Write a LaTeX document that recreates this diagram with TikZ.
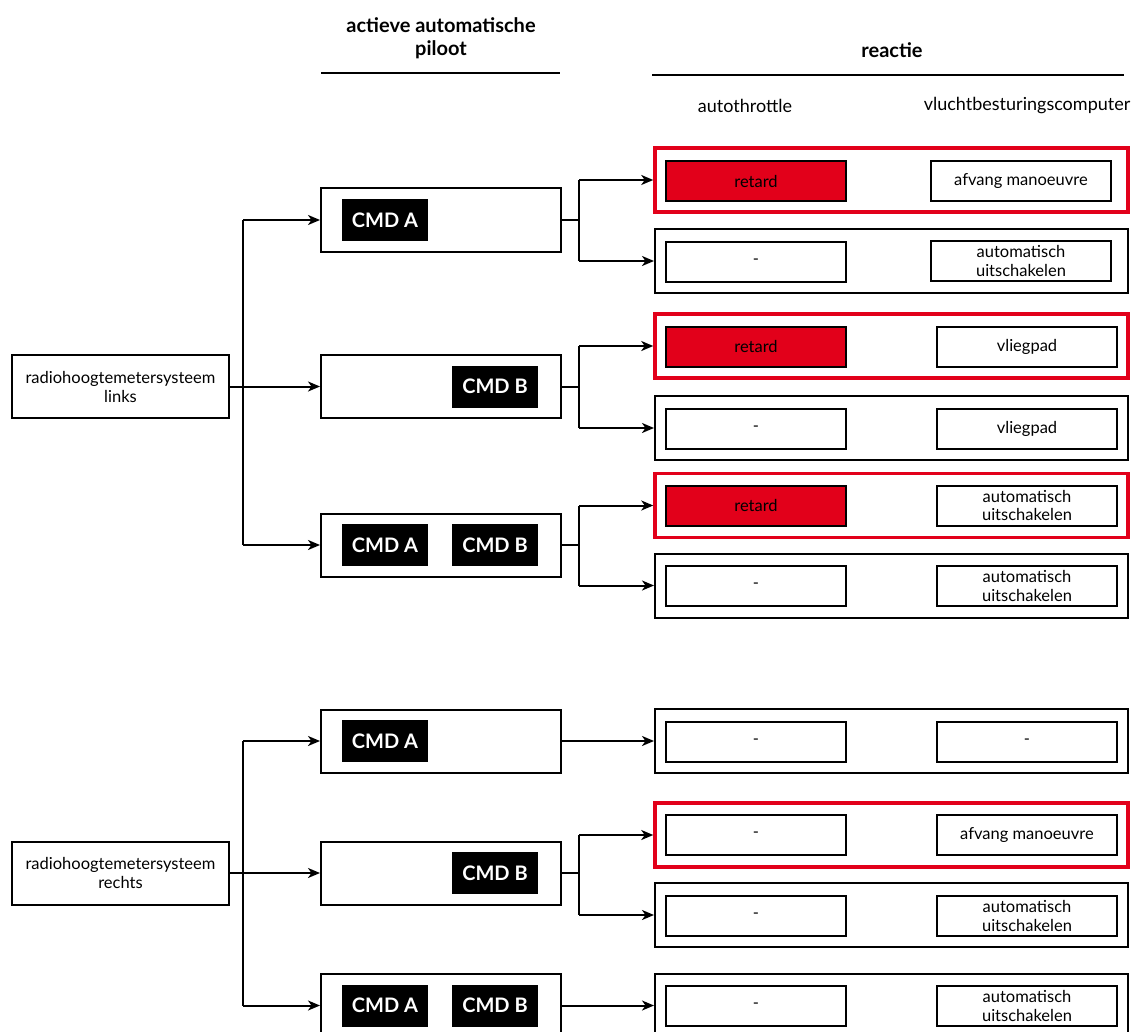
\documentclass[tikz,border=0pt]{standalone}
\usepackage{fontspec}
\setmainfont{Lato}
\usetikzlibrary{arrows.meta}
\definecolor{dsred}{HTML}{E2001A}
\begin{document}
\begin{tikzpicture}[x=1pt,y=-1pt,
  every node/.style={inner sep=0pt, align=center},
  src/.style={draw, line width=2pt, minimum width=217pt, minimum height=63pt, font=\fontsize{16.5}{19}\selectfont},
  cmdbox/.style={draw, line width=2pt, minimum width=240pt, minimum height=63pt},
  cmdlabel/.style={fill=black, text=white, minimum width=86pt, minimum height=42pt, font=\fontsize{20}{22}\selectfont\bfseries},
  rowbox/.style={draw, line width=2pt, minimum width=473pt, minimum height=64pt},
  redrow/.style={draw=dsred, line width=3.5pt, minimum width=473pt, minimum height=64pt},
  cell/.style={draw, line width=2pt, minimum width=180pt, minimum height=40pt, font=\fontsize{16.5}{18.5}\selectfont},
  redcell/.style={cell, fill=dsred},
  head/.style={font=\fontsize{20}{23}\selectfont\bfseries},
  sub/.style={font=\fontsize{18}{20}\selectfont},
  conn/.style={line width=2pt, -{Stealth[length=12pt,width=10pt,inset=3.5pt]}},
  wire/.style={line width=2pt}]
\useasboundingbox (0,0) rectangle (1139,1032);

% headers
\node[head] (hA) at (441,38) {actieve automatische\\piloot};
\node[head] (hR) at (892,50) {reactie};
\coordinate (uA1) at (321,73); \coordinate (uA2) at (560,73);
\coordinate (uR1) at (652,75); \coordinate (uR2) at (1124,75);
\draw[wire] (uA1) -- (uA2);
\draw[wire] (uR1) -- (uR2);
\node[sub] (sAT) at (745,106) {autothrottle};
\node[sub] (sFC) at (1027,106) {vluchtbesturingscomputer};

% sources
\node[src] (radL) at (120.5,386.5) {radiohoogtemetersysteem\\links};
\node[src] (radR) at (120.5,873) {radiohoogtemetersysteem\\rechts};

% CMD boxes group 1
\node[cmdbox] (cLA) at (441,220) {};
\node[cmdlabel] (lLA) at (385,220) {CMD A};
\node[cmdbox] (cLB) at (441,386.5) {};
\node[cmdlabel] (lLB) at (495,386.5) {CMD B};
\node[cmdbox] (cLAB) at (441,545) {};
\node[cmdlabel] (lLABa) at (385,545) {CMD A};
\node[cmdlabel] (lLABb) at (495,545) {CMD B};

% CMD boxes group 2
\node[cmdbox] (cRA) at (441,741) {};
\node[cmdlabel] (lRA) at (385,741) {CMD A};
\node[cmdbox] (cRB) at (441,873) {};
\node[cmdlabel] (lRB) at (495,873) {CMD B};
\node[cmdbox] (cRAB) at (441,1005.5) {};
\node[cmdlabel] (lRABa) at (385,1005.5) {CMD A};
\node[cmdlabel] (lRABb) at (495,1005.5) {CMD B};

% rows group 1
\node[redrow] (r1) at (891.5,180) {};
\node[redcell] (r1a) at (756,181) {retard};
\node[cell] (r1b) at (1021,181) {afvang manoeuvre};
\node[rowbox] (r2) at (891.5,261) {};
\node[cell] (r2a) at (756,262) {-};
\node[cell] (r2b) at (1021,261) {automatisch\\uitschakelen};
\node[redrow] (r3) at (891.5,346) {};
\node[redcell] (r3a) at (756,346.5) {retard};
\node[cell] (r3b) at (1027,346.5) {vliegpad};
\node[rowbox] (r4) at (891.5,428) {};
\node[cell] (r4a) at (756,429) {-};
\node[cell] (r4b) at (1027,429) {vliegpad};
\node[redrow] (r5) at (891.5,505.5) {};
\node[redcell] (r5a) at (756,505.5) {retard};
\node[cell] (r5b) at (1027,505.5) {automatisch\\uitschakelen};
\node[rowbox] (r6) at (891.5,585.5) {};
\node[cell] (r6a) at (756,586) {-};
\node[cell] (r6b) at (1027,586) {automatisch\\uitschakelen};

% rows group 2
\node[rowbox] (q1) at (891.5,741) {};
\node[cell] (q1a) at (756,742) {-};
\node[cell] (q1b) at (1027,742) {-};
\node[redrow] (q2) at (891.5,835) {};
\node[cell] (q2a) at (756,835) {-};
\node[cell] (q2b) at (1027,835) {afvang manoeuvre};
\node[rowbox] (q3) at (891.5,915) {};
\node[cell] (q3a) at (756,916) {-};
\node[cell] (q3b) at (1027,916) {automatisch\\uitschakelen};
\node[rowbox] (q4) at (891.5,1005.5) {};
\node[cell] (q4a) at (756,1006) {-};
\node[cell] (q4b) at (1027,1006) {automatisch\\uitschakelen};

% trunk group 1
\coordinate (tL) at (243,386.5);
\draw[conn] (radL.east) -- (cLB.west);
\draw[wire] (tL |- cLA.west) -- (tL |- cLAB.west);
\draw[conn] (tL |- cLA.west) -- (cLA.west);
\draw[conn] (tL |- cLAB.west) -- (cLAB.west);

% trunk group 2
\coordinate (tR) at (243,873);
\draw[conn] (radR.east) -- (cRB.west);
\draw[wire] (tR |- cRA.west) -- (tR |- cRAB.west);
\draw[conn] (tR |- cRA.west) -- (cRA.west);
\draw[conn] (tR |- cRAB.west) -- (cRAB.west);

% splits group 1
\coordinate (sx) at (579,0);
\draw[wire] (cLA.east) -- (sx |- cLA.east);
\draw[wire] (sx |- r1.west) -- (sx |- r2.west);
\draw[conn] (sx |- r1.west) -- (r1.west);
\draw[conn] (sx |- r2.west) -- (r2.west);

\draw[wire] (cLB.east) -- (sx |- cLB.east);
\draw[wire] (sx |- r3.west) -- (sx |- r4.west);
\draw[conn] (sx |- r3.west) -- (r3.west);
\draw[conn] (sx |- r4.west) -- (r4.west);

\draw[wire] (cLAB.east) -- (sx |- cLAB.east);
\draw[wire] (sx |- r5.west) -- (sx |- r6.west);
\draw[conn] (sx |- r5.west) -- (r5.west);
\draw[conn] (sx |- r6.west) -- (r6.west);

% group 2 connections
\draw[conn] (cRA.east) -- (q1.west);
\draw[wire] (cRB.east) -- (sx |- cRB.east);
\draw[wire] (sx |- q2.west) -- (sx |- q3.west);
\draw[conn] (sx |- q2.west) -- (q2.west);
\draw[conn] (sx |- q3.west) -- (q3.west);
\draw[conn] (cRAB.east) -- (q4.west);
\end{tikzpicture}
\end{document}
